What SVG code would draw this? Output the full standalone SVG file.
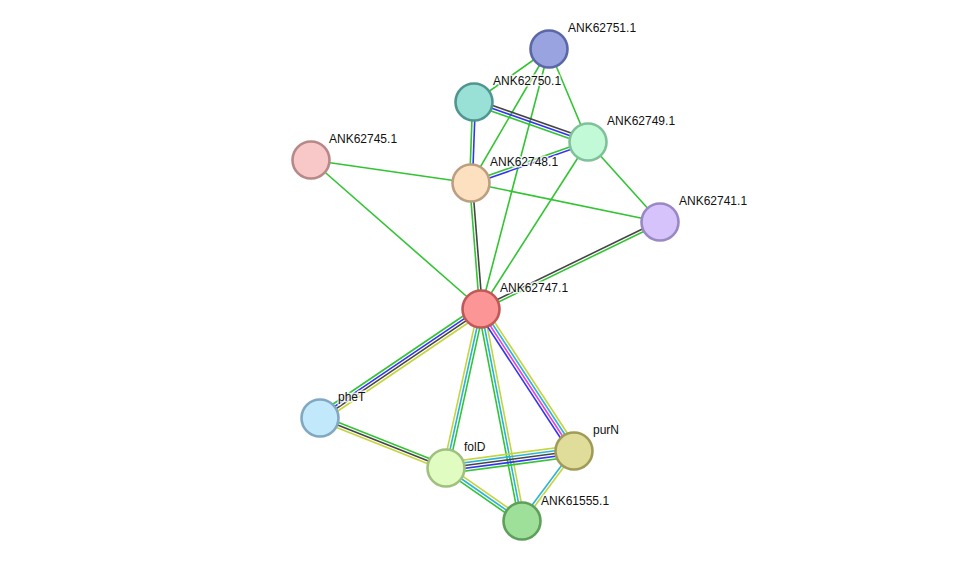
<svg xmlns="http://www.w3.org/2000/svg" width="976" height="568" viewBox="0 0 976 568">
<style>
.e line{stroke-width:1.6;fill:none}
.g{stroke:#33c433}.b{stroke:#3434f0}.k{stroke:#454545}.y{stroke:#c5d43a}.c{stroke:#28b4d8}.m{stroke:#df44df}
.n circle{stroke-width:2.6}
text{font-family:"Liberation Sans",Arial,sans-serif;font-size:12px;fill:#111;stroke:#fff;stroke-width:3;stroke-opacity:0.8;paint-order:stroke;stroke-linejoin:round}
</style>
<rect width="976" height="568" fill="#fff"/>
<g id="connectors" class="e">
<line class="g" x1="549" y1="49" x2="474" y2="102"/>
<line class="g" x1="549" y1="49" x2="588" y2="142"/>
<line class="g" x1="549" y1="49" x2="471" y2="183"/>
<line class="g" x1="549" y1="49" x2="481" y2="309"/>
<line class="g" x1="311" y1="160" x2="471" y2="183"/>
<line class="g" x1="311" y1="160" x2="481" y2="309"/>
<line class="g" x1="471" y1="183" x2="660" y2="222"/>
<line class="g" x1="588" y1="142" x2="660" y2="222"/>
<line class="g" x1="588" y1="142" x2="481" y2="309"/>
<line class="k" x1="474.93" y1="99.36" x2="588.93" y2="139.36"/>
<line class="b" x1="474" y1="102" x2="588" y2="142"/>
<line class="g" x1="473.07" y1="104.64" x2="587.07" y2="144.64"/>
<line class="g" x1="472.6" y1="102" x2="469.6" y2="183"/>
<line class="b" x1="475.4" y1="102" x2="472.4" y2="183"/>
<line class="g" x1="470.54" y1="181.68" x2="587.54" y2="140.68"/>
<line class="b" x1="471.46" y1="184.32" x2="588.46" y2="143.32"/>
<line class="g" x1="469.6" y1="183.1" x2="479.6" y2="309.1"/>
<line class="k" x1="472.4" y1="182.9" x2="482.4" y2="308.9"/>
<line class="k" x1="659.39" y1="220.74" x2="480.39" y2="307.74"/>
<line class="g" x1="660.61" y1="223.26" x2="481.61" y2="310.26"/>
<line class="g" x1="478.64" y1="305.52" x2="317.64" y2="414.52"/>
<line class="b" x1="480.21" y1="307.84" x2="319.21" y2="416.84"/>
<line class="k" x1="481.79" y1="310.16" x2="320.79" y2="419.16"/>
<line class="y" x1="483.36" y1="312.48" x2="322.36" y2="421.48"/>
<line class="y" x1="478.26" y1="308.4" x2="443.26" y2="467.4"/>
<line class="c" x1="481" y1="309" x2="446" y2="468"/>
<line class="g" x1="483.74" y1="309.6" x2="448.74" y2="468.6"/>
<line class="g" x1="478.25" y1="309.53" x2="519.25" y2="521.53"/>
<line class="c" x1="481" y1="309" x2="522" y2="521"/>
<line class="y" x1="483.75" y1="308.47" x2="524.75" y2="520.47"/>
<line class="b" x1="477.49" y1="311.3" x2="570.49" y2="453.3"/>
<line class="m" x1="479.83" y1="309.77" x2="572.83" y2="451.77"/>
<line class="c" x1="482.17" y1="308.23" x2="575.17" y2="450.23"/>
<line class="y" x1="484.51" y1="306.7" x2="577.51" y2="448.7"/>
<line class="g" x1="321.03" y1="415.4" x2="447.03" y2="465.4"/>
<line class="k" x1="320" y1="418" x2="446" y2="468"/>
<line class="y" x1="318.97" y1="420.6" x2="444.97" y2="470.6"/>
<line class="y" x1="445.26" y1="462.45" x2="573.26" y2="445.45"/>
<line class="c" x1="445.63" y1="465.23" x2="573.63" y2="448.23"/>
<line class="k" x1="446" y1="468" x2="574" y2="451"/>
<line class="b" x1="446.37" y1="470.77" x2="574.37" y2="453.77"/>
<line class="g" x1="446.74" y1="473.55" x2="574.74" y2="456.55"/>
<line class="y" x1="447.6" y1="465.7" x2="523.6" y2="518.7"/>
<line class="c" x1="446" y1="468" x2="522" y2="521"/>
<line class="g" x1="444.4" y1="470.3" x2="520.4" y2="523.3"/>
<line class="c" x1="572.88" y1="450.17" x2="520.88" y2="520.17"/>
<line class="y" x1="575.12" y1="451.83" x2="523.12" y2="521.83"/>
</g>
<g id="ANK62751.1" class="n"><circle cx="549" cy="49" r="18.5" fill="#99a3e0" stroke="#5b67a6"/><text x="568" y="32">ANK62751.1</text></g>
<g id="ANK62750.1" class="n"><circle cx="474" cy="102" r="18.5" fill="#99e0d6" stroke="#509690"/><text x="493" y="85">ANK62750.1</text></g>
<g id="ANK62749.1" class="n"><circle cx="588" cy="142" r="18.5" fill="#c2fad8" stroke="#80c09a"/><text x="607" y="125">ANK62749.1</text></g>
<g id="ANK62745.1" class="n"><circle cx="311" cy="160" r="18.5" fill="#f8c8c8" stroke="#b78888"/><text x="329" y="143">ANK62745.1</text></g>
<g id="ANK62748.1" class="n"><circle cx="471" cy="183" r="18.5" fill="#fde0c0" stroke="#bc9e80"/><text x="490" y="166">ANK62748.1</text></g>
<g id="ANK62741.1" class="n"><circle cx="660" cy="222" r="18.5" fill="#d6c3fc" stroke="#9a88c4"/><text x="679" y="205">ANK62741.1</text></g>
<g id="ANK62747.1" class="n"><circle cx="481" cy="309" r="18.5" fill="#fc9696" stroke="#c15858"/><text x="500" y="292">ANK62747.1</text></g>
<g id="pheT" class="n"><circle cx="320" cy="418" r="18.5" fill="#c2e8fc" stroke="#80a8c0"/><text x="338" y="401">pheT</text></g>
<g id="folD" class="n"><circle cx="446" cy="468" r="18.5" fill="#e0fcc0" stroke="#a0c080"/><text x="464" y="451">folD</text></g>
<g id="purN" class="n"><circle cx="574" cy="451" r="18.5" fill="#e0dc9a" stroke="#a09c58"/><text x="593" y="434">purN</text></g>
<g id="ANK61555.1" class="n"><circle cx="522" cy="521" r="18.5" fill="#9ee09a" stroke="#5ea05a"/><text x="541" y="505">ANK61555.1</text></g>
</svg>
